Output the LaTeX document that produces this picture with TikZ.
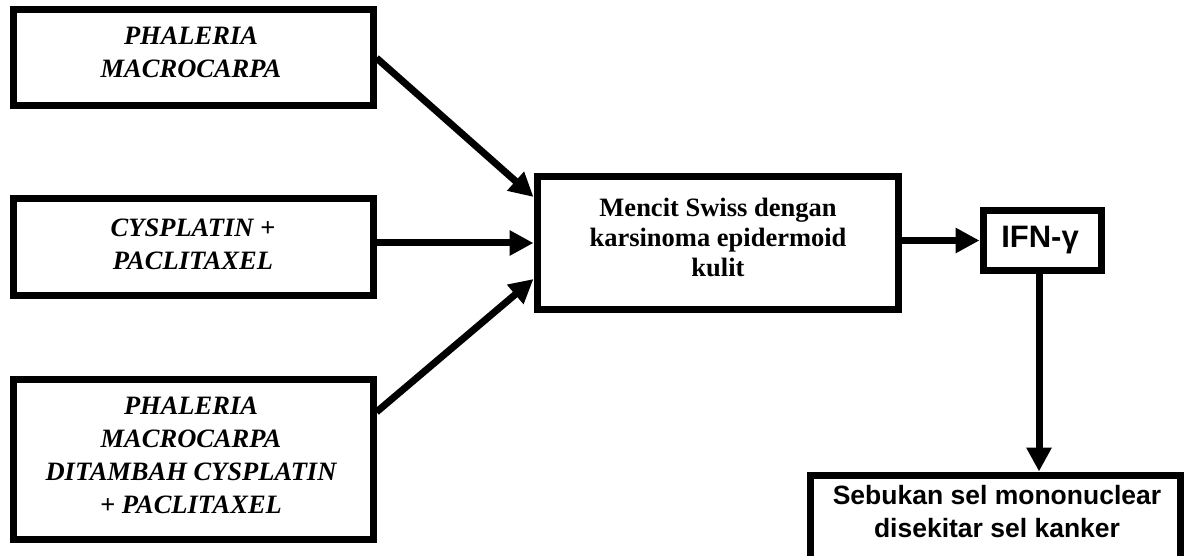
\documentclass[tikz,border=0pt]{standalone}
\usepackage{fontspec}
\setmainfont{Liberation Serif}
\newfontfamily\arialf{Liberation Sans}
\usetikzlibrary{arrows.meta}
\begin{document}
\begin{tikzpicture}[x=1pt,y=-1pt,
  box/.style={draw=black, line width=7pt, fill=white, inner sep=0pt},
  lefttxt/.style={inner sep=0pt, align=center, font=\fontsize{26.5}{33}\selectfont\bfseries\itshape},
  midtxt/.style={inner sep=0pt, align=center, font=\fontsize{26.5}{30}\selectfont\bfseries},
  sanstxt/.style={inner sep=0pt, align=center, font=\arialf\bfseries\fontsize{26.5}{33}\selectfont},
  arr/.style={line width=7pt, -{Triangle[length=24pt,width=24pt]}}]
\useasboundingbox (0,0) rectangle (1186,556);
% boxes
\node[box, minimum width=360pt, minimum height=96pt] (b1) at (193,58) {};
\node[box, minimum width=360pt, minimum height=96pt] (b2) at (193,247) {};
\node[box, minimum width=360pt, minimum height=160pt] (b3) at (193,459) {};
\node[box, minimum width=361pt, minimum height=132pt] (bc) at (717.5,243) {};
\node[box, minimum width=118pt, minimum height=59pt] (bi) at (1042,240.5) {};
\node[box, minimum width=370pt, minimum height=86pt] (bs) at (995,518) {};
% texts
\node[lefttxt] (t1) at (191,52.5) {PHALERIA\\MACROCARPA};
\node[lefttxt] (t2) at (193,244) {CYSPLATIN +\\PACLITAXEL};
\node[lefttxt] (t3) at (191,455.75) {PHALERIA\\MACROCARPA\\DITAMBAH CYSPLATIN\\+ PACLITAXEL};
\node[midtxt] (tc) at (718,237) {Mencit Swiss dengan\\karsinoma epidermoid\\kulit};
\node[inner sep=0pt, font=\arialf\bfseries\fontsize{31}{33}\selectfont] (ti) at (1040,240) {IFN-γ};
\node[sanstxt] (ts) at (997,512) {Sebukan sel mononuclear\\disekitar sel kanker};
% connectors
\draw[arr] (b1.east) -- ([yshift=46pt]bc.west);
\draw[arr] (b2.east |- bc.west) -- (bc.west);
\draw[arr] ([yshift=47pt]b3.east) -- ([yshift=-36pt]bc.west);
\draw[arr] (bc.east |- bi.west) -- (bi.west);
\draw[arr] ([xshift=-3pt]bi.south) -- ([xshift=-3pt]bi.south |- bs.north);
\end{tikzpicture}
\end{document}
